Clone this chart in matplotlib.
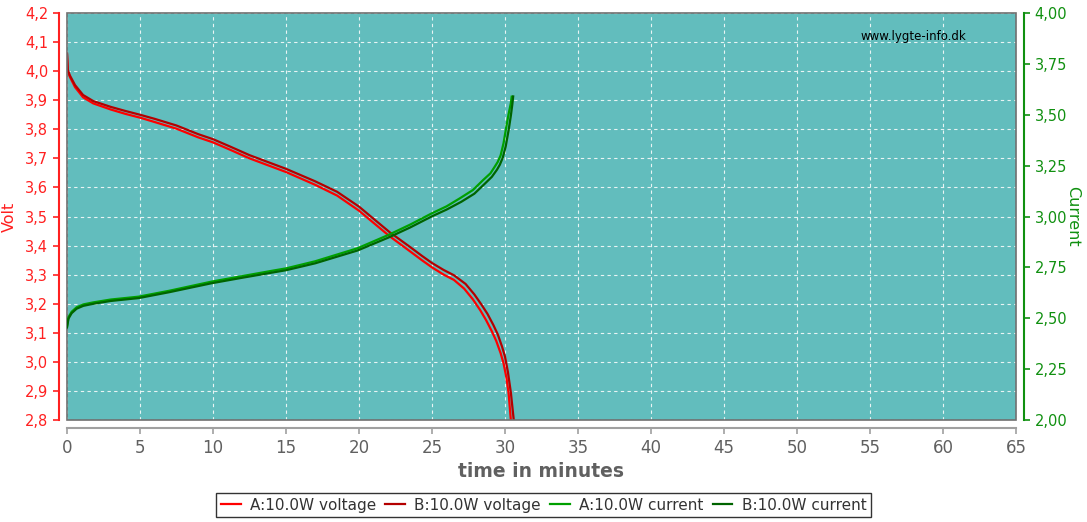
import matplotlib
matplotlib.use("Agg")
import matplotlib.pyplot as plt
from matplotlib.patches import Rectangle
from matplotlib.ticker import FuncFormatter

# voltage curves (minutes, volt)
a_volt_t = [0, 0.05, 0.2, 0.55, 1.1, 1.8, 3.0, 4.0, 5.0, 6.0, 7.5, 9.0, 10.0, 11.2, 12.5, 15.0,
            17.0, 18.5, 20.0, 21.0, 22.1, 23.5, 24.3, 25.0, 25.8, 26.5, 27.2, 27.8, 28.3, 28.7,
            29.1, 29.4, 29.7, 29.9, 30.1, 30.25, 30.4]
a_volt = [4.06, 4.0, 3.98, 3.945, 3.91, 3.889, 3.868, 3.853, 3.840, 3.825, 3.802, 3.772, 3.755,
          3.729, 3.700, 3.653, 3.609, 3.572, 3.520, 3.478, 3.432, 3.380, 3.350, 3.325, 3.300,
          3.282, 3.252, 3.215, 3.178, 3.144, 3.105, 3.072, 3.030, 2.995, 2.945, 2.89, 2.80]
b_volt_t = [0, 0.05, 0.2, 0.55, 1.1, 1.8, 3.0, 4.0, 5.0, 6.0, 7.5, 9.0, 10.0, 11.2, 12.5, 15.0,
            17.0, 18.5, 20.0, 21.0, 22.1, 23.5, 24.3, 25.0, 25.8, 26.5, 27.3, 27.9, 28.4, 28.8,
            29.2, 29.5, 29.8, 30.0, 30.2, 30.4, 30.6]
b_volt = [4.06, 4.005, 3.985, 3.952, 3.918, 3.897, 3.877, 3.863, 3.850, 3.836, 3.813, 3.783,
          3.766, 3.740, 3.711, 3.664, 3.621, 3.585, 3.534, 3.492, 3.446, 3.395, 3.365, 3.340,
          3.316, 3.298, 3.268, 3.232, 3.196, 3.165, 3.127, 3.095, 3.052, 3.018, 2.965, 2.895, 2.80]

# current curves (minutes, ampere)
a_curr_t = [0, 0.1, 0.32, 0.66, 1.12, 1.8, 3.0, 4.9, 7.0, 9.9, 12.0, 14.1, 15.0, 17.0, 19.9,
            22.0, 23.5, 25.0, 26.0, 26.9, 27.8, 28.5, 29.0, 29.3, 29.5, 29.7, 29.9, 30.1, 30.25,
            30.4, 30.46]
a_curr = [2.458, 2.505, 2.532, 2.554, 2.568, 2.578, 2.592, 2.606, 2.635, 2.680, 2.707, 2.734,
          2.745, 2.78, 2.844, 2.909, 2.96, 3.016, 3.05, 3.089, 3.130, 3.179, 3.212, 3.245, 3.268,
          3.300, 3.360, 3.445, 3.505, 3.556, 3.589]
b_curr_t = [0, 0.1, 0.32, 0.66, 1.12, 1.8, 3.0, 4.9, 7.0, 9.9, 12.0, 14.1, 15.0, 17.0, 19.9,
            22.0, 23.5, 25.0, 26.0, 27.0, 27.9, 28.6, 29.1, 29.45, 29.65, 29.85, 30.05, 30.25,
            30.4, 30.5, 30.56]
b_curr = [2.455, 2.498, 2.525, 2.547, 2.561, 2.571, 2.585, 2.599, 2.628, 2.672, 2.699, 2.725,
          2.736, 2.770, 2.833, 2.896, 2.946, 3.001, 3.034, 3.072, 3.112, 3.160, 3.195, 3.230,
          3.255, 3.290, 3.345, 3.425, 3.495, 3.550, 3.59]

labels = ["A:10.0W voltage", "B:10.0W voltage", "A:10.0W current", "B:10.0W current"]
colors = ["#ff0000", "#b40000", "#00a000", "#006400"]

RED_TXT = "#ff2020"
GREEN_TXT = "#109010"
GRAY = "#606060"

fig = plt.figure(figsize=(10.87, 5.22), dpi=100)
ax = fig.add_axes([67 / 1087, 102 / 522, 949 / 1087, 407 / 522])
ax2 = ax.twinx()

ax.set_facecolor("#62bdbd")
ax.set_xlim(0, 65)
ax.set_ylim(2.8, 4.2)
ax2.set_ylim(2.0, 4.0)

h1, = ax.plot(a_volt_t, a_volt, color=colors[0], lw=1.6)
h2, = ax.plot(b_volt_t, b_volt, color=colors[1], lw=1.6)
h3, = ax2.plot(a_curr_t, a_curr, color=colors[2], lw=1.6)
h4, = ax2.plot(b_curr_t, b_curr, color=colors[3], lw=1.6)

ax.set_xticks(range(0, 66, 5))
ax.set_yticks([2.8 + 0.1 * i for i in range(15)])
ax2.set_yticks([2.0 + 0.25 * i for i in range(9)])
ax.yaxis.set_major_formatter(FuncFormatter(lambda v, p: f"{v:.1f}".replace(".", ",")))
ax2.yaxis.set_major_formatter(FuncFormatter(lambda v, p: f"{v:.2f}".replace(".", ",")))

ax.grid(True, color="#e8f4f4", linestyle=(0, (3, 3)), linewidth=0.8)
ax.set_axisbelow(True)

for a in (ax, ax2):
    for s in a.spines.values():
        s.set_visible(False)
ax.spines["left"].set_visible(True)
ax.spines["left"].set_position(("outward", 6))
ax.spines["left"].set_color(RED_TXT)
ax.spines["left"].set_linewidth(1.5)
ax.spines["bottom"].set_visible(True)
ax.spines["bottom"].set_position(("outward", 6))
ax.spines["bottom"].set_color("#a0a0a0")
ax.spines["bottom"].set_linewidth(1.5)
ax2.spines["right"].set_visible(True)
ax2.spines["right"].set_position(("outward", 6))
ax2.spines["right"].set_color(GREEN_TXT)
ax2.spines["right"].set_linewidth(1.5)

ax.add_patch(Rectangle((0, 0), 1, 1, transform=ax.transAxes, fill=False,
                       edgecolor="#707070", lw=1.2, zorder=5, clip_on=False))

ax.tick_params(axis="y", colors=RED_TXT, labelsize=10.5, length=4, width=1.2)
ax.tick_params(axis="x", colors="#a0a0a0", labelcolor=GRAY, labelsize=12, length=4, width=1.2)
ax2.tick_params(axis="y", colors=GREEN_TXT, labelsize=10.5, length=4, width=1.2)

ax.set_xlabel("time in minutes", fontsize=13.5, fontweight="bold", color=GRAY, labelpad=4)
ax.set_ylabel("Volt", fontsize=11.5, color=RED_TXT, labelpad=6)
ax2.set_ylabel("Current", fontsize=11.5, color=GREEN_TXT, rotation=270, labelpad=9)

ax.text(0.892, 0.943, "www.lygte-info.dk", transform=ax.transAxes, ha="center",
        va="center", fontsize=8.5, color="black")

leg = fig.legend([h1, h2, h3, h4], labels, loc="center", bbox_to_anchor=(0.5, 0.032),
                 ncol=4, fontsize=11, frameon=True, fancybox=False, handlelength=1.3,
                 handletextpad=0.6, columnspacing=0.6, borderpad=0.3)
leg.get_frame().set_edgecolor("black")
leg.get_frame().set_linewidth(1.0)
for t in leg.get_texts():
    t.set_color("#333333")

fig.savefig("out.png", dpi=100)
